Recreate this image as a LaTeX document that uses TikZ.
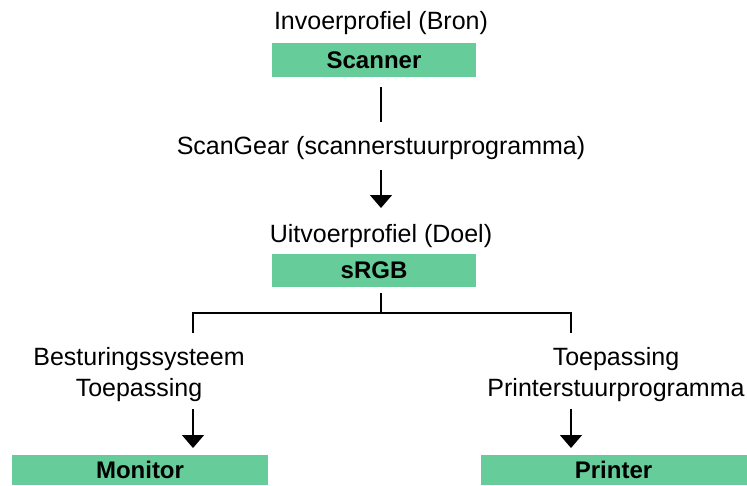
\documentclass[tikz,border=0pt]{standalone}
\usepackage{fontspec}
\setmainfont{Liberation Sans}
\usetikzlibrary{arrows.meta}
\definecolor{boxgreen}{HTML}{66CC99}
\tikzset{
  lbl/.style={anchor=base, inner sep=0pt, font=\fontsize{25}{30}\selectfont},
  gbox/.style={fill=boxgreen, draw=none, inner sep=0pt, font=\bfseries\fontsize{24}{28}\selectfont},
  conn/.style={line width=1.5pt, black},
  arr/.style={conn, -{Triangle[width=22pt,length=13pt]}}
}
\begin{document}
\begin{tikzpicture}[x=1pt,y=1pt]
\path[use as bounding box] (0,0) rectangle (747,-485);
% texts
\node[lbl] (inv) at (381,-29) {Invoerprofiel (Bron)};
\node[lbl] (sg) at (381,-154) {ScanGear (scannerstuurprogramma)};
\node[lbl] (uit) at (381,-242) {Uitvoerprofiel (Doel)};
\node[lbl] (bes1) at (139,-365) {Besturingssysteem};
\node[lbl] (bes2) at (139,-396) {Toepassing};
\node[lbl] (toe1) at (616,-365) {Toepassing};
\node[lbl] (toe2) at (616,-396) {Printerstuurprogramma};
% boxes
\node[gbox, minimum width=204pt, minimum height=34pt] (scanner) at (374,-60) {Scanner};
\node[gbox, minimum width=204pt, minimum height=33pt] (srgb) at (374,-270.5) {sRGB};
\node[gbox, minimum width=256pt, minimum height=30pt] (monitor) at (140,-470) {Monitor};
\node[gbox, minimum width=266pt, minimum height=30pt] (printer) at (613.5,-470) {Printer};
% connector points
\coordinate (c1a) at (381,-87);
\coordinate (c1b) at (381,-122);
\coordinate (c2a) at (381,-170);
\coordinate (c2b) at (381,-208);
\coordinate (c3a) at (381,-293);
\coordinate (c3m) at (381,-313);
\coordinate (c3l) at (193,-333);
\coordinate (c3r) at (571,-333);
\coordinate (c4a) at (193,-409);
\coordinate (c4b) at (193,-448);
\coordinate (c5a) at (571,-409);
\coordinate (c5b) at (571,-448);
% connectors
\draw[conn] (c1a) -- (c1b);
\draw[arr] (c2a) -- (c2b);
\draw[conn] (c3a) -- (c3m);
\draw[conn] (c3l) |- (c3m) -| (c3r);
\draw[arr] (c4a) -- (c4b);
\draw[arr] (c5a) -- (c5b);
\end{tikzpicture}
\end{document}
